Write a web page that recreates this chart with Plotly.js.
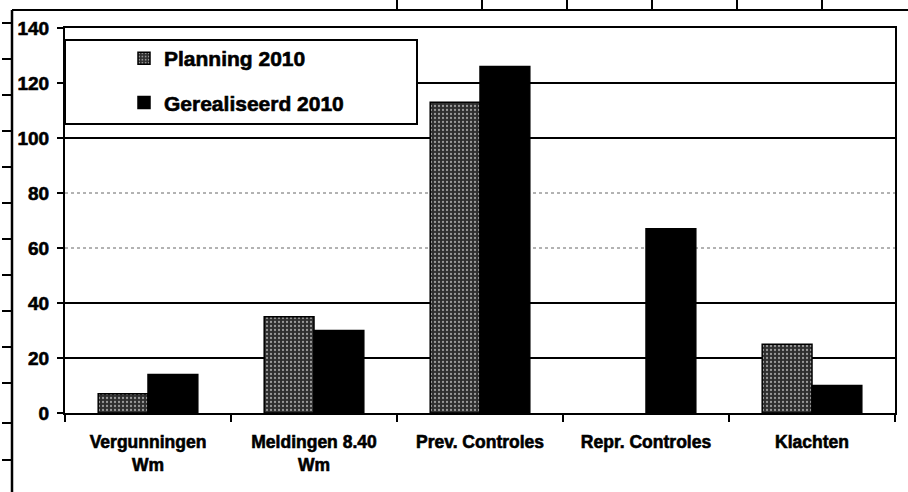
<!DOCTYPE html>
<html>
<head>
<meta charset="utf-8">
<script src="https://cdn.plot.ly/plotly-3.0.1.min.js"></script>
<style>
html,body{margin:0;padding:0;background:#fff;}
#chart{width:908px;height:492px;}
#chart text{stroke:#000;stroke-width:0.6px;}
</style>
</head>
<body>
<div id="chart"></div>
<script>
// ---- data ----
var categories = ["Vergunningen<br>Wm", "Meldingen 8.40<br>Wm", "Prev. Controles", "Repr. Controles", "Klachten"];
var planning2010 = [7, 35, 113, null, 25];
var gerealiseerd2010 = [14, 30, 126, 67, 10];
var seriesNames = ["Planning 2010", "Gerealiseerd 2010"];
var yTicks = [0, 20, 40, 60, 80, 100, 120, 140];

// ---- layout helpers (pixel -> paper for decoration) ----
var L = 65, R = 895, T = 28, B = 413;
function px(x) { return (x - L) / (R - L); }
function py(y) { return (B - y) / (B - T); }

var shapes = [];
// gridlines (solid vs dotted as in the scan)
yTicks.forEach(function (v) {
  if (v === 0 || v === 140) return;
  var dotted = (v === 60 || v === 80);
  shapes.push({type: 'line', xref: 'paper', yref: 'y', x0: 0, x1: 1, y0: v, y1: v, layer: 'below',
    line: {color: dotted ? '#666' : '#000', width: dotted ? 1 : 2, dash: dotted ? 'dot' : 'solid'}});
});
// legend box
shapes.push({type: 'rect', xref: 'paper', yref: 'paper', x0: px(65), x1: px(417), y0: py(124), y1: py(40),
  layer: 'above', fillcolor: '#fff', line: {color: '#000', width: 2}});
// outer frame lines (scan of table border)
shapes.push({type: 'line', xref: 'paper', yref: 'paper', x0: px(12), x1: px(12), y0: py(10), y1: py(492), line: {color: '#000', width: 2.5}});
shapes.push({type: 'line', xref: 'paper', yref: 'paper', x0: px(12), x1: px(908), y0: py(10), y1: py(10), line: {color: '#000', width: 2}});
[23, 59, 95, 131, 167, 203, 239, 275, 311, 347, 383, 423, 460].forEach(function (y) {
  shapes.push({type: 'line', xref: 'paper', yref: 'paper', x0: px(2), x1: px(12), y0: py(y), y1: py(y), line: {color: '#000', width: 2}});
});
[397, 482, 567, 652, 737, 822].forEach(function (x) {
  shapes.push({type: 'line', xref: 'paper', yref: 'paper', x0: px(x), x1: px(x), y0: py(0), y1: py(10), line: {color: '#000', width: 2}});
});

var font = {family: '"Liberation Sans", Arial, sans-serif', color: '#000', weight: 700};

var traces = [
  {type: 'bar', name: seriesNames[0], x: categories, y: planning2010, legendgroup: 'a',
    marker: {color: '#333', line: {color: '#000', width: 1.5},
      pattern: {shape: '.', fgcolor: '#9a9a9a', bgcolor: '#2e2e2e', size: 4, solidity: 0.25}}},
  {type: 'bar', name: seriesNames[1], x: categories, y: gerealiseerd2010, legendgroup: 'b',
    marker: {color: '#000', line: {color: '#000', width: 1.5}}}
];

var layout = {
  width: 908, height: 492,
  margin: {l: L, r: 908 - R, t: T, b: 492 - B, pad: 0},
  paper_bgcolor: '#fff', plot_bgcolor: '#fff',
  barmode: 'group', bargap: 0.4, bargroupgap: 0,
  showlegend: true,
  legend: {x: px(124), y: py(38), xanchor: 'left', yanchor: 'top', bgcolor: 'rgba(0,0,0,0)', borderwidth: 0,
    font: Object.assign({}, font, {size: 21}), traceorder: 'grouped', tracegroupgap: 14, itemwidth: 30},
  xaxis: {type: 'category', showline: true, mirror: true, linecolor: '#000', linewidth: 2,
    ticks: 'outside', tickson: 'boundaries', ticklen: 7, tickwidth: 2, tickcolor: '#000',
    ticklabelstandoff: 12, tickfont: Object.assign({}, font, {size: 17.5}), showgrid: false, fixedrange: true},
  yaxis: {range: [0, 140], tickvals: yTicks, showline: true, mirror: true, linecolor: '#000', linewidth: 2,
    ticks: 'outside', ticklen: 6, tickwidth: 2, tickcolor: '#000', ticklabelstandoff: 4,
    tickfont: Object.assign({}, font, {size: 19}), showgrid: false, zeroline: false, fixedrange: true},
  shapes: shapes
};

Plotly.newPlot('chart', traces, layout, {displayModeBar: false, staticPlot: true});
</script>
</body>
</html>
